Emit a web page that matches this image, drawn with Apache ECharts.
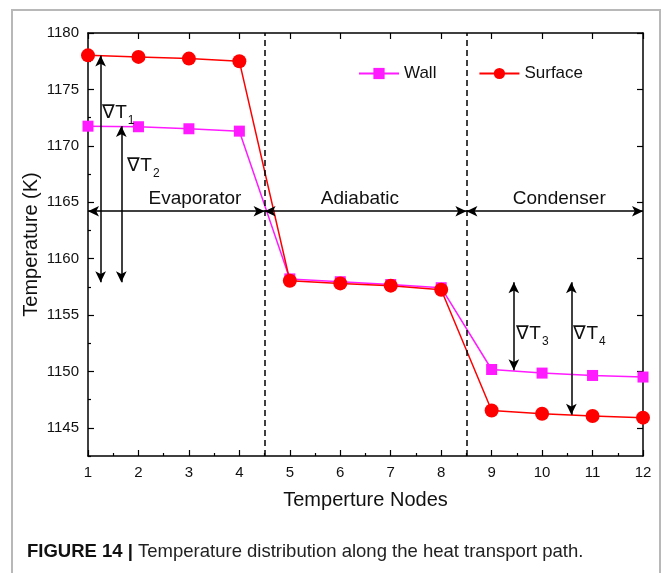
<!DOCTYPE html>
<html><head><meta charset="utf-8">
<script src="https://cdn.jsdelivr.net/npm/echarts@6/dist/echarts.min.js"></script>
<style>html,body{margin:0;padding:0;background:#fff}#c{width:664px;height:573px}</style>
</head><body><div id="c"></div>
<script>
// ---- data ----
const nodes = [1, 2, 3, 4, 5, 6, 7, 8, 9, 10, 11, 12];
const wall = [1171.74, 1171.69, 1171.51, 1171.3, 1158.2, 1157.95, 1157.7, 1157.42, 1150.17, 1149.85, 1149.64, 1149.5];
const surface = [1178.02, 1177.88, 1177.73, 1177.49, 1158.04, 1157.8, 1157.6, 1157.24, 1146.54, 1146.25, 1146.05, 1145.9];
const yLabelTicks = [1145, 1150, 1155, 1160, 1165, 1170, 1175, 1180];
const yMinorTicks = [1142.5, 1147.5, 1152.5, 1157.5, 1162.5, 1167.5, 1172.5, 1177.5];
const dividers = [4.5, 8.5];
const regionNames = ['Evaporator', 'Adiabatic', 'Condenser'];
const regionStart = [1, 4.5, 8.5];
const regionEnd = [4.5, 8.5, 12];
const regionArrowY = 1164.2;
const regionLabelX = [3.13, 6.4, 10.35];
const regionLabelY = 1165.3;
const deltaSubs = ['1', '2', '3', '4'];
const deltaX = [1.25, 1.66, 9.44, 10.58];
const deltaFrom = [1178.0, 1171.75, 1157.9, 1157.9];
const deltaTo = [1157.9, 1157.9, 1150.1, 1146.15];
const deltaLabelX = [1.29, 1.79, 9.5, 10.63];
const deltaLabelY = [1172.86, 1168.17, 1153.3, 1153.3];

const FONT = 'Liberation Sans';
const TXT = '#111';
const chart = echarts.init(document.getElementById('c'));

const regionArrows = regionNames.map((n, i) => [
  { coord: [regionStart[i], regionArrowY] },
  { coord: [regionEnd[i], regionArrowY] }
]);
const deltaArrows = deltaX.map((x, i) => [
  { coord: [x, deltaFrom[i]] },
  { coord: [x, deltaTo[i]] }
]);

const option = {
  backgroundColor: '#fff',
  textStyle: { fontFamily: FONT },
  animation: false,
  graphic: [{
    type: 'rect', shape: { x: 12, y: 10, width: 648, height: 580 },
    style: { fill: 'none', stroke: '#b8b8b8', lineWidth: 2 }, silent: true
  }],
  title: {
    text: '{b|FIGURE 14 |} Temperature distribution along the heat transport path.',
    left: 22, top: 537,
    textStyle: {
      fontFamily: FONT, fontSize: 18.5, fontWeight: 'normal', color: '#222',
      rich: { b: { fontFamily: FONT, fontSize: 18.5, fontWeight: 'bold', color: '#111' } }
    }
  },
  legend: {
    data: ['Wall', 'Surface'],
    left: 353, top: 60,
    itemWidth: 40, itemHeight: 14, itemGap: 42,
    textStyle: { fontFamily: FONT, fontSize: 17, color: TXT }
  },
  grid: { left: 88, right: 21, top: 33, bottom: 117 },
  xAxis: [{
    type: 'value', min: 1, max: 12, interval: 1, position: 'bottom',
    name: 'Temperture Nodes', nameLocation: 'middle', nameGap: 34, nameMoveOverlap: false,
    nameTextStyle: { fontFamily: FONT, fontSize: 20, color: TXT },
    axisLine: { show: true, lineStyle: { color: '#000', width: 1.5 } },
    axisTick: { show: true, inside: true, length: 6, lineStyle: { color: '#000', width: 1.2 } },
    minorTick: { show: true, splitNumber: 2, length: 3, lineStyle: { color: '#000', width: 1.2 } },
    axisLabel: { fontFamily: FONT, fontSize: 15, color: TXT, margin: 9 },
    splitLine: { show: false }
  }, {
    type: 'value', min: 1, max: 12, interval: 1, position: 'top',
    axisLine: { show: true, lineStyle: { color: '#000', width: 1.5 } },
    axisTick: { show: true, inside: true, length: 6, lineStyle: { color: '#000', width: 1.2 } },
    axisLabel: { show: false },
    splitLine: { show: false }
  }],
  yAxis: [{
    type: 'value', min: 1142.5, max: 1180, position: 'left',
    name: 'Temperature (K)', nameLocation: 'middle', nameGap: 47, nameRotate: 90, nameMoveOverlap: false,
    nameTextStyle: { fontFamily: FONT, fontSize: 20, color: TXT },
    axisLine: { show: true, lineStyle: { color: '#000', width: 1.5 } },
    axisTick: { show: true, inside: true, length: 6, customValues: yLabelTicks, lineStyle: { color: '#000', width: 1.2 } },
    axisLabel: { fontFamily: FONT, fontSize: 15, color: TXT, margin: 9, customValues: yLabelTicks, formatter: v => String(v) },
    splitLine: { show: false }
  }, {
    type: 'value', min: 1142.5, max: 1180, position: 'left',
    axisLine: { show: false },
    axisTick: { show: true, inside: true, length: 3, customValues: yMinorTicks, lineStyle: { color: '#000', width: 1.2 } },
    axisLabel: { show: false },
    splitLine: { show: false }
  }, {
    type: 'value', min: 1142.5, max: 1180, position: 'right',
    axisLine: { show: true, lineStyle: { color: '#000', width: 1.5 } },
    axisTick: { show: true, inside: true, length: 6, customValues: yLabelTicks, lineStyle: { color: '#000', width: 1.2 } },
    axisLabel: { show: false },
    splitLine: { show: false }
  }],
  series: [{
    name: 'Wall', type: 'line',
    data: nodes.map((x, i) => [x, wall[i]]),
    symbol: 'rect', symbolSize: 11,
    lineStyle: { color: '#ff1aff', width: 1.5 },
    itemStyle: { color: '#ff1aff' },
    z: 3,
    markLine: {
      silent: true, symbol: ['none', 'none'],
      label: { show: false },
      lineStyle: { color: '#000', width: 1.5, type: [6, 4] },
      data: dividers.map(x => ({ xAxis: x }))
    }
  }, {
    name: 'Surface', type: 'line',
    data: nodes.map((x, i) => [x, surface[i]]),
    symbol: 'circle', symbolSize: 14,
    lineStyle: { color: '#ff0000', width: 1.5 },
    itemStyle: { color: '#ff0000' },
    z: 4
  }, {
    name: 'arrows', type: 'line', data: [], z: 5,
    markLine: {
      silent: true, symbol: ['arrow', 'arrow'], symbolSize: [8, 11],
      label: { show: false },
      lineStyle: { color: '#000', width: 1.5, type: 'solid' },
      emphasis: { disabled: true },
      data: regionArrows.concat(deltaArrows)
    }
  }, {
    name: 'regionLabels', type: 'scatter', z: 6, silent: true,
    symbolSize: 1, itemStyle: { color: '#fff', opacity: 1 },
    data: regionNames.map((n, i) => ({ value: [regionLabelX[i], regionLabelY], name: n })),
    label: {
      show: true, position: [0, 0], align: 'center', verticalAlign: 'middle', formatter: p => p.name,
      fontFamily: FONT, fontSize: 19, color: TXT, textBorderWidth: 0, opacity: 1
    }
  }, {
    name: 'deltaLabels', type: 'scatter', z: 6, silent: true,
    symbolSize: 1, itemStyle: { color: '#fff', opacity: 1 },
    data: deltaSubs.map((s, i) => ({ value: [deltaLabelX[i], deltaLabelY[i]], name: s })),
    label: {
      show: true, position: [0, 0], align: 'left', verticalAlign: 'middle',
      formatter: p => '{n|∇T}{s|' + p.name + '}',
      textBorderWidth: 0, opacity: 1,
      rich: {
        n: { fontFamily: FONT, fontSize: 19, color: TXT, textBorderWidth: 0 },
        s: { fontFamily: FONT, fontSize: 12, color: TXT, textBorderWidth: 0, padding: [16, 0, 0, 1] }
      }
    }
  }]
};
chart.setOption(option);
</script>
</body></html>
